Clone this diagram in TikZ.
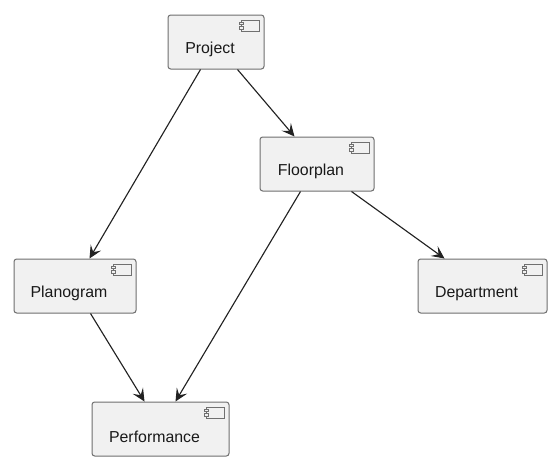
\documentclass[tikz,border=0pt]{standalone}
\usepackage{fontspec}
\setmainfont{Liberation Sans}
\usetikzlibrary{arrows.meta,calc}
\definecolor{boxfill}{HTML}{F1F1F1}
\definecolor{boxline}{HTML}{6E6E6E}
\definecolor{iconline}{HTML}{707070}
\definecolor{arrowline}{HTML}{222222}
\tikzset{
  x=0.75pt,y=-0.75pt,
  compbox/.style={draw=boxline,fill=boxfill,line width=0.75pt,rounded corners=2pt,inner sep=0pt,minimum height=40.5pt},
  complabel/.style={inner sep=0pt,font=\fontsize{11.9pt}{14pt}\selectfont,text=black!90},
  conn/.style={draw=arrowline,line width=0.85pt,-{Stealth[length=9.5pt,width=9pt,inset=4pt]}},
  iconbody/.style={draw=iconline,line width=0.5pt,fill=boxfill},
}
\newcommand{\compnode}[6]{% name, left, top, right, bottom, text
  \node[compbox,minimum width={(#4-#2)*0.75pt}] (#1) at ({(#2+#4)/2},{(#3+#5)/2}) {};
  \node[complabel] (#1text) at ($(#1.center)+(-6,7.5)$) {#6};
  \draw[iconbody] ($(#1.north east)+(-23.5,5.5)$) rectangle ($(#1.north east)+(-5.5,16.5)$);
  \draw[iconbody] ($(#1.north east)+(-25.5,7.5)$) rectangle ($(#1.north east)+(-21.5,10)$);
  \draw[iconbody] ($(#1.north east)+(-25.5,12)$) rectangle ($(#1.north east)+(-21.5,14.5)$);
}
\begin{document}
\begin{tikzpicture}
\useasboundingbox (0,0) rectangle (560,471);
\compnode{project}{168}{15}{264}{69}{Project}
\compnode{floorplan}{260}{137}{374}{191}{Floorplan}
\compnode{planogram}{14}{259}{136}{313}{Planogram}
\compnode{department}{418}{259}{547}{313}{Department}
\compnode{performance}{92}{402}{229}{456}{Performance}
\draw[conn] ($(project.south west)+(33,0)$) -- ($(planogram.north west)+(76,0)$);
\draw[conn] ($(project.south west)+(70,0)$) -- ($(floorplan.north west)+(35,0)$);
\draw[conn] ($(floorplan.south west)+(41,0)$) -- ($(performance.north west)+(84,0)$);
\draw[conn] ($(floorplan.south west)+(92,0)$) -- ($(department.north west)+(27,0)$);
\draw[conn] ($(planogram.south west)+(77,0)$) -- ($(performance.north west)+(53,0)$);
\end{tikzpicture}
\end{document}
